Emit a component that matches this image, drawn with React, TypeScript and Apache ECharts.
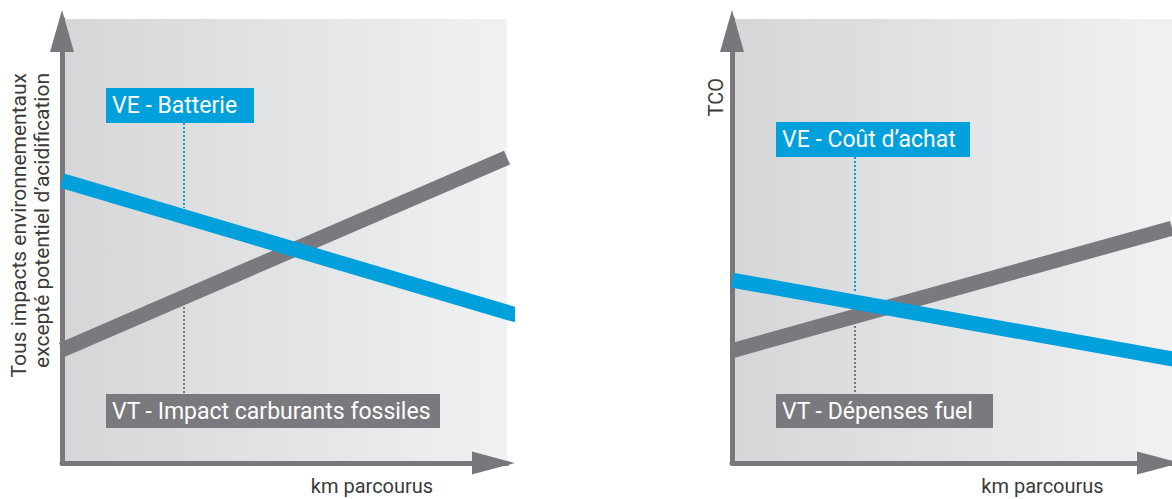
import React, { useEffect, useRef } from "react";
import * as echarts from "echarts";

// ---- data (abstract units: x = km parcourus 0..100, y = impact / coût 0..100)
const xExtent = [0, 100];
const yExtent = [0, 100];
const leftVT = [[0, 25.5], [100, 68.8]];
const leftVE = [[0, 63.6], [102.2, 33.3]];
const rightVT = [[0, 25.3], [100, 52.9]];
const rightVE = [[0, 41.2], [102, 23.1]];

const yTitles = ["Tous impacts environnementaux\nexcepté potentiel d’acidification", "TCO"];
const xTitle = "km parcourus";
const veLabels = ["VE - Batterie", "VE - Coût d’achat"];
const vtLabels = ["VT - Impact carburants fossiles", "VT - Dépenses fuel"];

const BLUE = "#00a0dc";
const GRAY = "#7a797e";
const AXIS = "#78777c";
const TEXT = "#3a3a3a";
const FONT = "Roboto, 'Noto Sans', sans-serif";

export default function App() {
  const ref = useRef<HTMLDivElement>(null);

  useEffect(() => {
    if (!ref.current) return;
    const chart = echarts.init(ref.current, null, { renderer: "svg" });

    const bg = {
      type: "linear", x: 0, y: 0, x2: 1, y2: 0,
      colorStops: [
        { offset: 0, color: "#d5d6d8" },
        { offset: 1, color: "#f0f1f2" },
      ],
    };

    const grids = [
      { left: 62, top: 19, width: 445, height: 444 },
      { left: 732, top: 19, width: 445, height: 444 },
    ].map((g) => ({ ...g, show: true, backgroundColor: bg, borderWidth: 0 }));

    const mkX = (i: number) => ({
      type: "value", gridIndex: i, min: xExtent[0], max: xExtent[1],
      axisLine: {
        show: true, onZero: false,
        symbol: ["none", "triangle"], symbolSize: [23, 43], symbolOffset: [0, -13.5],
        lineStyle: { color: AXIS, width: 5 },
      },
      axisTick: { show: false }, axisLabel: { show: false }, splitLine: { show: false },
    });
    const mkY = (i: number) => ({
      type: "value", gridIndex: i, min: yExtent[0], max: yExtent[1],
      axisLine: {
        show: true, onZero: false,
        symbol: ["none", "triangle"], symbolSize: [24, 42], symbolOffset: [0, -12],
        lineStyle: { color: AXIS, width: 5 },
      },
      axisTick: { show: false }, axisLabel: { show: false }, splitLine: { show: false },
    });

    const mkLine = (data: number[][], i: number, color: string) => ({
      type: "line", xAxisIndex: i, yAxisIndex: i, data, symbol: "none", clip: false,
      lineStyle: { color, width: 15, cap: "butt" }, silent: true,
    });

    const text = (x: number, y: number, t: string, extra: any = {}) => ({
      type: "text", x, y, silent: true,
      style: { text: t, fontFamily: FONT, fontSize: 20, fill: TEXT, align: "center", verticalAlign: "middle", ...extra },
    });
    const box = (x: number, y: number, w: number, h: number, color: string, t: string) => [
      { type: "rect", shape: { x, y, width: w, height: h }, style: { fill: color }, silent: true },
      text(x + 6, y + h / 2, t, { fill: "#ffffff", fontSize: 23, align: "left" }),
    ];
    const dotted = (x: number, y1: number, y2: number, color: string) => ({
      type: "line", silent: true,
      shape: { x1: x, y1, x2: x, y2 },
      style: { stroke: color, lineWidth: 2, lineDash: [2, 2] },
    });

    const graphic: any[] = [
      text(30, 73, yTitles[0], { align: "right", fontSize: 21, lineHeight: 23 }),
      text(715.5, 78, yTitles[1], { align: "right", fontSize: 20 }),
      text(372, 486, xTitle, { fontSize: 20 }),
      text(1042.5, 486, xTitle, { fontSize: 20 }),
      dotted(184, 123, 208, BLUE),
      dotted(184, 307, 394, GRAY),
      dotted(855, 157, 293, BLUE),
      dotted(855, 310, 394, GRAY),
      ...box(106, 88, 148, 35, BLUE, veLabels[0]),
      ...box(106, 394, 334, 34, GRAY, vtLabels[0]),
      ...box(776, 122, 194, 35, BLUE, veLabels[1]),
      ...box(776, 394, 217, 34, GRAY, vtLabels[1]),
    ];
    graphic[0].rotation = Math.PI / 2;
    graphic[1].rotation = Math.PI / 2;

    chart.setOption({
      animation: false,
      grid: grids,
      xAxis: [mkX(0), mkX(1)],
      yAxis: [mkY(0), mkY(1)],
      series: [
        mkLine(leftVT, 0, GRAY),
        mkLine(leftVE, 0, BLUE),
        mkLine(rightVT, 1, GRAY),
        mkLine(rightVE, 1, BLUE),
      ],
      graphic,
    });

    return () => chart.dispose();
  }, []);

  return (
    <div
      ref={ref}
      style={{ position: "fixed", left: 0, top: 0, width: 1172, height: 499, background: "#ffffff" }}
    />
  );
}
